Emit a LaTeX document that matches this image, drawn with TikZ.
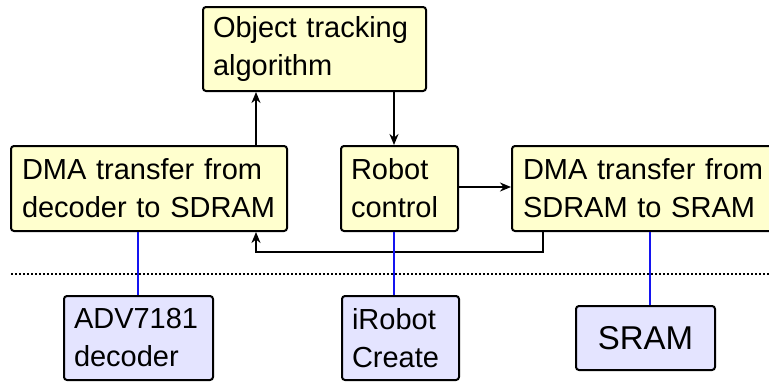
\documentclass[tikz,border=0pt]{standalone}
\usepackage{fontspec}
\setmainfont{Liberation Sans}
\usetikzlibrary{arrows.meta}
\definecolor{boxyellow}{RGB}{255,255,206}
\definecolor{boxblue}{RGB}{228,228,255}
\definecolor{linkblue}{RGB}{20,20,240}
\tikzset{
  blk/.style={draw=black, line width=2pt, rounded corners=3pt, inner sep=0pt,
    font=\fontsize{29}{38}\selectfont, align=left},
  ybox/.style={blk, fill=boxyellow},
  bbox/.style={blk, fill=boxblue},
  flow/.style={line width=2pt, -{Stealth[length=11pt,width=9pt,inset=3.5pt]}},
  link/.style={draw=linkblue, line width=2pt},
}
\begin{document}
\begin{tikzpicture}[x=1pt,y=-1pt]
\useasboundingbox (0,0) rectangle (769,381);
% yellow boxes
\node[ybox, minimum width=223pt, minimum height=84pt, text width=203pt] (obj) at (314.5,49) {Object tracking\\algorithm};
\node[ybox, minimum width=276pt, minimum height=85pt, text width=254pt] (dma1) at (149,188.5) {DMA transfer from\\decoder to SDRAM};
\node[ybox, minimum width=117pt, minimum height=85pt, text width=97pt] (rob) at (399.5,188.5) {Robot\\control};
\node[ybox, minimum width=264pt, minimum height=85pt, text width=242pt] (dma2) at (644,188.5) {DMA transfer from\\SDRAM to SRAM};
% blue boxes
\node[bbox, minimum width=149pt, minimum height=84pt, text width=129pt] (adv) at (138.5,338) {ADV7181\\decoder};
\node[bbox, minimum width=117pt, minimum height=84pt, text width=97pt] (irb) at (400.5,338) {iRobot\\Create};
\node[bbox, minimum width=139pt, minimum height=64pt, align=center, font=\fontsize{33}{40}\selectfont] (sram) at (645.5,338) {SRAM};
% separator
\coordinate (sepL) at (11,274);
\coordinate (sepR) at (769,274);
\draw[line width=1.6pt, dash pattern=on 1.8pt off 2.2pt] (sepL) -- (sepR);
% flow arrows
\draw[flow] (dma1.north -| 256,0) -- (obj.south -| 256,0);
\draw[flow] (obj.south -| 394,0) -- (rob.north -| 394,0);
\draw[flow] (rob.east |- 0,187) -- (dma2.west |- 0,187);
\coordinate (r1) at (543,252);
\coordinate (r2) at (256,252);
\draw[flow] (dma2.south -| r1) -- (r1) -- (r2) -- (dma1.south -| r2);
% blue links
\draw[link] (dma1.south -| 138,0) -- (adv.north -| 138,0);
\draw[link] (rob.south -| 394,0) -- (irb.north -| 394,0);
\draw[link] (dma2.south -| 650,0) -- (sram.north -| 650,0);
\end{tikzpicture}
\end{document}
